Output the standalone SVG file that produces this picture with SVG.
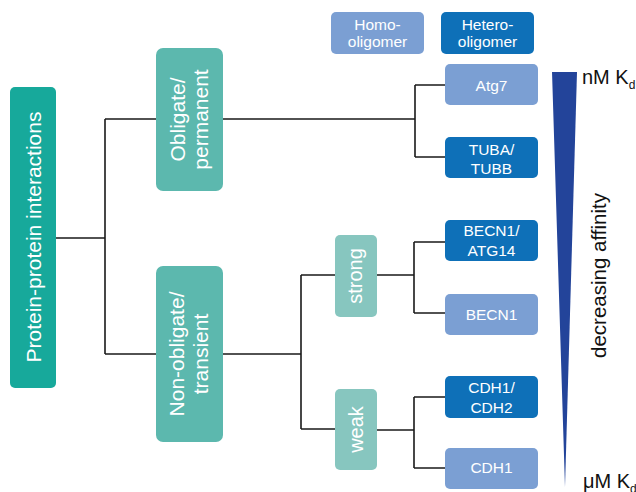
<svg xmlns="http://www.w3.org/2000/svg" width="636" height="492" viewBox="0 0 636 492">
<style>
text{font-family:"Liberation Sans",Arial,sans-serif;}
.w{fill:#ffffff;text-anchor:middle;}
.s{font-size:15.5px;}
.c{fill:none;stroke:#1a1a1a;stroke-width:1.6;}
.root{fill:#17a99b;}
.l1{fill:#5cb8ae;}
.l2{fill:#87c6bf;}
.homo{fill:#7b9fd3;}
.het{fill:#0e70b8;}
</style>
<rect width="636" height="492" fill="#ffffff"/>
<g id="connectors">
<path class="c" d="M56,238H105M105,119V354M105,119H156M105,354H156"/>
<path class="c" d="M223,119H415M415,85V157M415,85H445M415,157H445"/>
<path class="c" d="M223,354H301M301,275V429M301,275H335M301,429H335"/>
<path class="c" d="M377,275H414M414,242V313M414,242H445M414,313H445"/>
<path class="c" d="M377,430H414M414,397V468M414,397H445M414,468H445"/>
</g>
<g id="legend-homo"><rect class="homo" x="331" y="12" width="93" height="42" rx="5"/><text class="w s" x="377.5" y="30">Homo-</text><text class="w s" x="377.5" y="47">oligomer</text></g>
<g id="legend-hetero"><rect class="het" x="441" y="12" width="93" height="42" rx="5"/><text class="w s" x="487.5" y="30">Hetero-</text><text class="w s" x="487.5" y="47">oligomer</text></g>
<g id="root"><rect class="root" x="10" y="87" width="46" height="301" rx="5"/><text class="w" font-size="21" transform="translate(40.5,237) rotate(-90)">Protein-protein interactions</text></g>
<g id="obligate"><rect class="l1" x="156" y="48" width="67" height="143" rx="7"/><text class="w" font-size="21" transform="translate(185,119.5) rotate(-90)">Obligate/</text><text class="w" font-size="21" transform="translate(208,119.5) rotate(-90)">permanent</text></g>
<g id="nonobligate"><rect class="l1" x="156" y="266" width="67" height="176" rx="7"/><text class="w" font-size="21" transform="translate(184,354) rotate(-90)">Non-obligate/</text><text class="w" font-size="21" transform="translate(208,354) rotate(-90)">transient</text></g>
<g id="strong"><rect class="l2" x="335" y="235" width="42" height="82" rx="5"/><text class="w" font-size="20" transform="translate(362,276) rotate(-90)">strong</text></g>
<g id="weak"><rect class="l2" x="335" y="389" width="42" height="81" rx="5"/><text class="w" font-size="20" transform="translate(363,429.5) rotate(-90)">weak</text></g>
<g id="atg7"><rect class="homo" x="445" y="64" width="93" height="41" rx="5"/><text class="w s" x="491.5" y="91">Atg7</text></g>
<g id="tuba"><rect class="het" x="445" y="137" width="93" height="41" rx="5"/><text class="w s" x="491.5" y="155">TUBA/</text><text class="w s" x="491.5" y="174">TUBB</text></g>
<g id="becn1atg14"><rect class="het" x="445" y="220" width="93" height="41" rx="5"/><text class="w s" x="491.5" y="236">BECN1/</text><text class="w s" x="491.5" y="255.5">ATG14</text></g>
<g id="becn1"><rect class="homo" x="445" y="294" width="93" height="41" rx="5"/><text class="w s" x="491.5" y="320">BECN1</text></g>
<g id="cdh1cdh2"><rect class="het" x="445" y="376" width="93" height="42" rx="5"/><text class="w s" x="491.5" y="393">CDH1/</text><text class="w s" x="491.5" y="412.5">CDH2</text></g>
<g id="cdh1"><rect class="homo" x="445" y="448" width="93" height="41" rx="5"/><text class="w s" x="491.5" y="473">CDH1</text></g>
<g id="affinity">
<polygon points="552,72 577,72 565,487" fill="#23449a"/>
<text font-size="20" x="582" y="84" fill="#111">nM K<tspan font-size="12" dy="5">d</tspan></text>
<text font-size="20" x="583" y="488" fill="#111">μM K<tspan font-size="12" dy="5">d</tspan></text>
<text font-size="20.5" fill="#111" text-anchor="middle" transform="translate(606,275.5) rotate(-90)">decreasing affinity</text>
</g>
</svg>
